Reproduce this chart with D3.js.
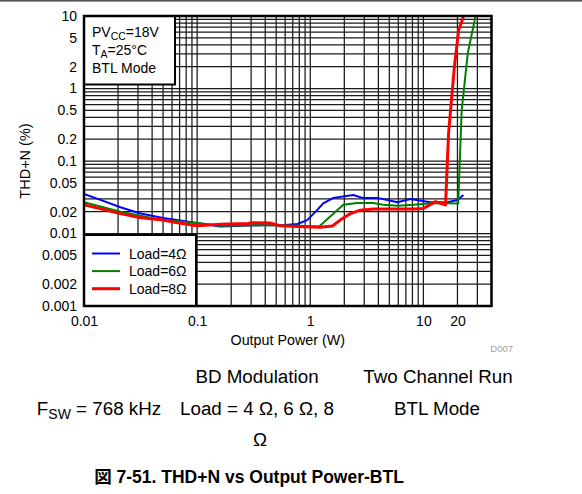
<!DOCTYPE html>
<html>
<head>
<meta charset="utf-8">
<script src="https://cdn.jsdelivr.net/npm/d3@7"></script>
<style>
  html, body { margin: 0; padding: 0; background: #fff; }
  svg { display: block; font-family: "Liberation Sans", Arial, sans-serif; }
</style>
</head>
<body>
<svg id="chart" width="582" height="494"></svg>
<script>
// THD+N (%) versus output power (W), BTL mode, three loads
const seriesNames = ["Load=4Ω", "Load=6Ω", "Load=8Ω"];
const seriesColors = ["#0000ff", "#008000", "#ff0000"];
const seriesWidths = [2, 2, 3];

const power4 = [0.01, 0.015, 0.021, 0.031, 0.05, 0.1, 0.16, 0.36, 0.6, 0.77, 0.94, 1.15, 1.3, 1.6, 2.4, 2.9, 3.9, 4.8, 5.9, 7.7, 11.5, 16.3, 20, 22.6];
const thd4   = [0.035, 0.028, 0.023, 0.019, 0.0164, 0.014, 0.0125, 0.013, 0.0131, 0.0135, 0.0153, 0.021, 0.026, 0.031, 0.034, 0.031, 0.031, 0.029, 0.027, 0.030, 0.027, 0.027, 0.029, 0.034];

const power6 = [0.01, 0.021, 0.05, 0.1, 0.16, 0.36, 0.77, 1.2, 1.5, 1.96, 2.6, 3.6, 4.4, 5.9, 8.2, 12.3, 20.3, 21.8, 24.7, 28.8, 30];
const thd6   = [0.027, 0.020, 0.0153, 0.014, 0.0128, 0.013, 0.0128, 0.0125, 0.0171, 0.0249, 0.0264, 0.0264, 0.025, 0.0242, 0.025, 0.0264, 0.026, 0.5, 3.1, 9.7, 12];

const power8 = [0.01, 0.021, 0.031, 0.05, 0.067, 0.1, 0.16, 0.28, 0.31, 0.44, 0.54, 0.77, 1.22, 1.57, 1.84, 2.26, 2.77, 3.6, 8.2, 10, 12.8, 15.7, 16.7, 18.8, 20.5, 22.4, 23.2];
const thd8   = [0.025, 0.0188, 0.0166, 0.0153, 0.0141, 0.0128, 0.0134, 0.0137, 0.0141, 0.014, 0.0128, 0.0125, 0.0122, 0.0127, 0.0153, 0.0188, 0.021, 0.0217, 0.0217, 0.0222, 0.0275, 0.0247, 0.243, 2.0, 6.4, 9.4, 12];

const xTickValues = [0.01, 0.1, 1, 10, 20];
const xTickLabels = ["0.01", "0.1", "1", "10", "20"];
const yTickValues = [10, 5, 2, 1, 0.5, 0.2, 0.1, 0.05, 0.02, 0.01, 0.005, 0.002, 0.001];
const yTickLabels = ["10", "5", "2", "1", "0.5", "0.2", "0.1", "0.05", "0.02", "0.01", "0.005", "0.002", "0.001"];

const series = [
  { name: seriesNames[0], color: seriesColors[0], width: seriesWidths[0], pts: power4.map((p, i) => [p, thd4[i]]) },
  { name: seriesNames[1], color: seriesColors[1], width: seriesWidths[1], pts: power6.map((p, i) => [p, thd6[i]]) },
  { name: seriesNames[2], color: seriesColors[2], width: seriesWidths[2], pts: power8.map((p, i) => [p, thd8[i]]) }
];

const svg = d3.select("#chart");
const plot = { left: 84, right: 491.5, top: 16, bottom: 306 };

const x = d3.scaleLog().domain([0.01, 40]).range([plot.left, plot.right]);
const y = d3.scaleLog().domain([0.001, 10]).range([plot.bottom, plot.top]);

// thin rule across the top of the page
svg.append("rect").attr("x", 0).attr("y", 0).attr("width", 582).attr("height", 1.6).attr("fill", "#555");

svg.append("defs").append("clipPath").attr("id", "plotClip")
  .append("rect")
  .attr("x", plot.left).attr("y", plot.top)
  .attr("width", plot.right - plot.left).attr("height", plot.bottom - plot.top);

// log grid
const grid = svg.append("g").attr("stroke", "#1a1a1a").attr("stroke-width", 1.25);
grid.selectAll("line.v").data(x.ticks()).join("line")
  .attr("class", "v")
  .attr("x1", d => x(d)).attr("x2", d => x(d))
  .attr("y1", plot.top).attr("y2", plot.bottom);
grid.selectAll("line.h").data(y.ticks()).join("line")
  .attr("class", "h")
  .attr("x1", plot.left).attr("x2", plot.right)
  .attr("y1", d => y(d)).attr("y2", d => y(d));

// curves
const line = d3.line().x(d => x(d[0])).y(d => y(d[1]));
svg.append("g").attr("clip-path", "url(#plotClip)")
  .selectAll("path").data(series).join("path")
  .attr("d", d => line(d.pts))
  .attr("fill", "none")
  .attr("stroke", d => d.color)
  .attr("stroke-width", d => d.width)
  .attr("stroke-linejoin", "round");

// conditions box, top left
const cond = svg.append("g");
cond.append("rect")
  .attr("x", plot.left).attr("y", plot.top)
  .attr("width", 91).attr("height", 68.5)
  .attr("fill", "#fff").attr("stroke", "#000").attr("stroke-width", 2);
const condText = cond.append("g").attr("font-size", 14).attr("fill", "#000");
const t1 = condText.append("text").attr("x", 92).attr("y", 37);
t1.append("tspan").text("PV");
t1.append("tspan").attr("font-size", 10.5).attr("dy", 3).text("CC");
t1.append("tspan").attr("dy", -3).text("=18V");
const t2 = condText.append("text").attr("x", 92).attr("y", 55);
t2.append("tspan").text("T");
t2.append("tspan").attr("font-size", 10.5).attr("dy", 3).text("A");
t2.append("tspan").attr("dy", -3).text("=25°C");
condText.append("text").attr("x", 92).attr("y", 73).text("BTL Mode");

// series legend, bottom left
const leg = svg.append("g");
leg.append("rect")
  .attr("x", plot.left).attr("y", 235)
  .attr("width", 112).attr("height", plot.bottom - 235)
  .attr("fill", "#fff").attr("stroke", "#000").attr("stroke-width", 2);
const items = leg.selectAll("g.item").data(series).join("g")
  .attr("class", "item")
  .attr("transform", (d, i) => `translate(0,${253.5 + i * 17.6})`);
items.append("line")
  .attr("x1", 92).attr("x2", 120).attr("y1", 0).attr("y2", 0)
  .attr("stroke", d => d.color).attr("stroke-width", d => d.width);
items.append("text")
  .attr("x", 129).attr("y", 5)
  .attr("font-size", 14).text(d => d.name);

// plot frame
svg.append("rect")
  .attr("x", plot.left).attr("y", plot.top)
  .attr("width", plot.right - plot.left).attr("height", plot.bottom - plot.top)
  .attr("fill", "none").attr("stroke", "#000").attr("stroke-width", 2.5);

// axes
const yAxis = d3.axisLeft(y).tickValues(yTickValues)
  .tickFormat((d, i) => yTickLabels[i]).tickSize(0).tickPadding(7);
const gy = svg.append("g").attr("transform", `translate(${plot.left},0)`).call(yAxis);
gy.select(".domain").remove();
gy.selectAll("text").attr("font-size", 14).attr("font-family", "Liberation Sans, Arial, sans-serif").attr("fill", "#000");

const xAxis = d3.axisBottom(x).tickValues(xTickValues)
  .tickFormat((d, i) => xTickLabels[i]).tickSize(0).tickPadding(10);
const gx = svg.append("g").attr("transform", `translate(0,${plot.bottom})`).call(xAxis);
gx.select(".domain").remove();
gx.selectAll("text").attr("font-size", 14).attr("font-family", "Liberation Sans, Arial, sans-serif").attr("fill", "#000");

svg.append("text")
  .attr("x", (plot.left + plot.right) / 2).attr("y", 345)
  .attr("text-anchor", "middle").attr("font-size", 14.3).text("Output Power (W)");

svg.append("text")
  .attr("transform", `translate(30,${(plot.top + plot.bottom) / 2}) rotate(-90)`)
  .attr("text-anchor", "middle").attr("font-size", 14.5).text("THD+N (%)");

svg.append("text")
  .attr("x", 513).attr("y", 352)
  .attr("text-anchor", "end").attr("font-size", 9.5).attr("fill", "#a0a0a0")
  .text("D007");

// test conditions underneath
const notes = svg.append("g").attr("font-size", 18.8).attr("fill", "#000").attr("text-anchor", "middle");
notes.append("text").attr("x", 257).attr("y", 383).text("BD Modulation");
notes.append("text").attr("x", 438).attr("y", 383).text("Two Channel Run");
const fsw = notes.append("text").attr("x", 99).attr("y", 415);
fsw.append("tspan").text("F");
fsw.append("tspan").attr("font-size", 14).attr("dy", 4).text("SW");
fsw.append("tspan").attr("dy", -4).text(" = 768 kHz");
notes.append("text").attr("x", 257).attr("y", 415).text("Load = 4 Ω, 6 Ω, 8");
notes.append("text").attr("x", 437).attr("y", 415).text("BTL Mode");
notes.append("text").attr("x", 260).attr("y", 446).text("Ω");

svg.append("text")
  .attr("x", 249).attr("y", 483)
  .attr("text-anchor", "middle").attr("font-size", 17.5).attr("font-weight", "bold")
  .attr("font-family", "Liberation Sans, 'Noto Sans CJK JP', sans-serif")
  .text("図 7-51. THD+N vs Output Power-BTL");
</script>
</body>
</html>
